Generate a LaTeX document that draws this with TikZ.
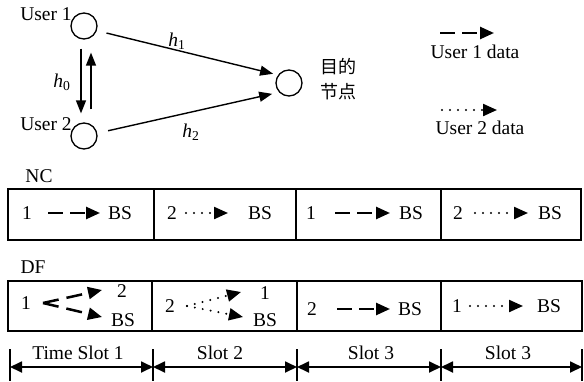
\documentclass[tikz,border=0pt]{standalone}
\usepackage{fontspec}
\setmainfont{Liberation Serif}
\newfontfamily\cjk{Noto Sans CJK SC}
\usetikzlibrary{arrows.meta}
\tikzset{
  txt/.style={inner sep=0pt, font=\fontsize{19.5}{22}\selectfont},
  usr/.style={circle, draw, line width=1.3pt, minimum size=26pt, inner sep=0pt},
  chan/.style={line width=1.4pt, -{Triangle[length=13pt,width=10pt]}},
  dat1/.style={line width=2.5pt, dash pattern=on 15pt off 7pt, -{Triangle[length=14pt,width=12pt]}},
  dat2/.style={line width=2.2pt, line cap=round, dash pattern=on 0pt off 8pt, -{Triangle[length=14pt,width=12pt]}},
  frame/.style={line width=1.3pt},
  divider/.style={line width=2pt},
  tick/.style={line width=1.4pt},
  span/.style={line width=1.8pt, {Triangle[length=12pt,width=11pt]}-{Triangle[length=12pt,width=11pt]}},
}
\begin{document}
\begin{tikzpicture}[x=1pt,y=-1pt]
\useasboundingbox (0,0) rectangle (584,381);
% --- top graph
\node[usr] (u1) at (84,26) {};
\node[usr] (u2) at (84,136) {};
\node[usr] (d) at (289,83) {};
\node[txt] (u1l) at (46,14) {User 1};
\node[txt] (u2l) at (46,124) {User 2};
\draw[chan, shorten <=9pt, shorten >=9pt] ([xshift=-3pt]u1.south) -- ([xshift=-3pt]u2.north);
\draw[chan, shorten <=13pt, shorten >=13pt] ([xshift=7pt]u2.north) -- ([xshift=7pt]u1.south);
\draw[chan, shorten <=10pt, shorten >=5pt] (u1.-20) -- (d.144);
\draw[chan, shorten <=11pt, shorten >=7pt] (u2.12) -- (d.-137);
\node[txt] (h0) at (62,82) {\textit{h}\textsubscript{0}};
\node[txt] (h1) at (177,41) {\textit{h}\textsubscript{1}};
\node[txt] (h2) at (191,132) {\textit{h}\textsubscript{2}};
\node[txt, font=\cjk\fontsize{18}{25}\selectfont, align=center] (dl) at (338.5,79.5) {目的\\节点};
% --- legend
\coordinate (l1s) at (440,33); \coordinate (l1e) at (494,33);
\draw[dat1] (l1s) -- (l1e);
\node[txt] (l1) at (475,52) {User 1 data};
\coordinate (l2s) at (442,110); \coordinate (l2e) at (497,110);
\draw[dat2] (l2s) -- (l2e);
\node[txt] (l2) at (480,128) {User 2 data};
% --- NC row
\node[txt] (nc) at (39,176) {NC};
\draw[frame] (8,189) rectangle (581,240);
\draw[divider] (154,189) -- (154,240);
\draw[divider] (296,189) -- (296,240);
\draw[divider] (441,189) -- (441,240);
\node[txt] (a1) at (27,213) {1}; \node[txt] (a1b) at (120,213) {BS};
\draw[dat1, shorten <=21pt, shorten >=20pt] (a1.center) -- (a1b.center);
\node[txt] (a2) at (172,213) {2}; \node[txt] (a2b) at (260,213) {BS};
\draw[dat2, shorten <=14pt, shorten >=32pt] (a2.center) -- (a2b.center);
\node[txt] (a3) at (311,213) {1}; \node[txt] (a3b) at (411,213) {BS};
\draw[dat1, shorten <=24pt, shorten >=21pt] (a3.center) -- (a3b.center);
\node[txt] (a4) at (458,213) {2}; \node[txt] (a4b) at (550,213) {BS};
\draw[dat2, shorten <=17pt, shorten >=22pt] (a4.center) -- (a4b.center);
% --- DF row
\node[txt] (df) at (33,267) {DF};
\draw[frame] (8,281) rectangle (582,331);
\draw[frame] (152,281) -- (152,331);
\draw[frame] (297,281) -- (297,331);
\draw[frame] (441,281) -- (441,331);
\node[txt] (b1) at (26,303) {1};
\node[txt] (b1u) at (122,291) {2};
\node[txt] (b1d) at (123,320) {BS};
\coordinate (b1s) at (43,303); \coordinate (b1ut) at (102,290); \coordinate (b1dt) at (102,317);
\draw[dat1, dash pattern=on 16pt off 8pt] (b1s) -- (b1ut);
\draw[dat1, dash pattern=on 16pt off 8pt] (b1s) -- (b1dt);
\node[txt] (b2) at (170,306) {2};
\node[txt] (b2u) at (265,293) {1};
\node[txt] (b2d) at (265,320) {BS};
\coordinate (b2s) at (187,306); \coordinate (b2ut) at (241,292); \coordinate (b2dt) at (243,317);
\draw[dat2] (b2s) -- (b2ut);
\draw[dat2] (b2s) -- (b2dt);
\node[txt] (b3) at (312,309) {2}; \node[txt] (b3b) at (410,309) {BS};
\draw[dat1, shorten <=25pt, shorten >=20pt] (b3.center) -- (b3b.center);
\node[txt] (b4) at (457,306) {1}; \node[txt] (b4b) at (549,306) {BS};
\draw[dat2, shorten <=13pt, shorten >=26pt] (b4.center) -- (b4b.center);
% --- time bar
\foreach \i/\x in {0/10,1/153,2/297,3/441,4/582}{
  \coordinate (tt\i) at (\x,349);
  \coordinate (tb\i) at (\x,381);
  \coordinate (tm\i) at (\x,367);
  \draw[tick] (tt\i) -- (tb\i);
}
\draw[span] (tm0) -- (tm1);
\draw[span] (tm1) -- (tm2);
\draw[span] (tm2) -- (tm3);
\draw[span] (tm3) -- (tm4);
\node[txt] (s1) at (78,353) {Time Slot 1};
\node[txt] (s2) at (220,353) {Slot 2};
\node[txt] (s3) at (371,353) {Slot 3};
\node[txt] (s4) at (508,353) {Slot 3};
\end{tikzpicture}
\end{document}
